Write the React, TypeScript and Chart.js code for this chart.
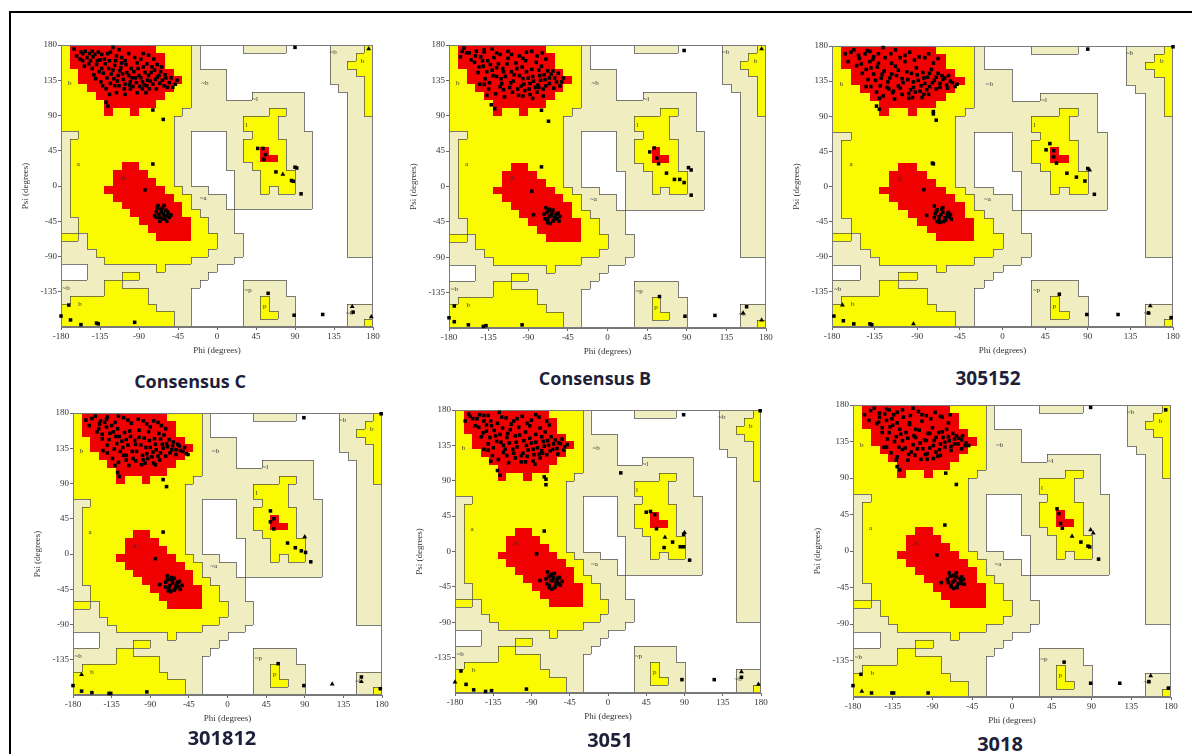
import React, { useEffect, useRef } from 'react';
import { Chart, registerables } from 'chart.js';

Chart.register(...registerables);

type Pt = [number, number];

// ---------- axes ----------
const X_TICKS = [-180, -135, -90, -45, 0, 45, 90, 135, 180];
const Y_TICKS = [-135, -90, -45, 0, 45, 90, 135, 180];
const PHI_MIN = -180;
const PSI_MAX = 180;
const CELL = 10;

// ---------- Ramachandran region map (10° cells, row 0 = psi 170..180, col 0 = phi -180..-170) ----------
// R = core, Y = allowed, G = generously allowed, . = disallowed
const REGION_ROWS = [
  'YRRRRRRRRRRYYYYG.....GGGGG.....GGGGY',
  'YRRRRRRRRRRRYYYG...............GGGYY',
  'YRRRRRRRRRRRYYYG...............GGYYY',
  'YYRRRRRRRRRRRYYGGGG............GGGYY',
  'YYRRRRRRRRRRRRYGGGG............GGGGY',
  'YYYRRRRRRRRRRYYGGGG.............GGGY',
  'YYYYRRRRRRRRYYYGGGG...GGGGGG.....GGY',
  'YYYYYRRRRRRYYYYGGGGGGGGGGGGG.....GGY',
  'YYYYYRYYRYYYYYGGGGGGGGGGYYGG.....GGY',
  'YYYYYYYYYYYYYGGGGGGGGYYYYGGG.....GGG',
  'YYYYYYYYYYYYYGGGGGGGGYYYYGGG.....GGG',
  'GGYYYYYYYYYYYGG....GGGYYYGGGG....GGG',
  'GYYYYYYYYYYYYGG....GGYYYYYGGG....GGG',
  'GYYYYYYYYYYYYGG....GGYYRYYGGG....GGG',
  'GYYYYYYYYYYYYGG....GGYYRRYGGG....GGG',
  'GYYYYYYRRYYYYGG....GGGYYYYGGG....GGG',
  'GYYYYYRRRRYYYGG.....GGGYYYYGG....GGG',
  'GYYYYYRRRRRYYGG.....GGGYYYYGG....GGG',
  'GYYYYRRRRRRRYYGGG...GGGYGYYGG....GGG',
  'GYYYYYRRRRRRRYYGGGG.GGGGGGGGG....GGG',
  'GYYYYYYRRRRRRRYGGGG.GGGGGGGGG....GGG',
  'GYYYYYYYRRRRRRYYGGGG.............GGG',
  'GGYYYYYYYRRRRRRYYGGG.............GGG',
  'GGYYYYYYYYRRRRRYYGGG.............GGG',
  'YYGYYYYYYYYRRRRYYYGGG............GGG',
  'GGGYYYYYYYYYYYYYYYGGG............GGG',
  'GGGGYYYYYYYYYYYYYGGGG............GGG',
  'GGGGGYYYYYYYYYYGGGGG................',
  '...GGGGGGGGYGGGGGG..................',
  '...GGGGYYGGGGGGGG...................',
  'GGGGGYYGGGGGGGGG.....GGGGG..........',
  'GGGGGYYYYYGGGGG......GGGGG..........',
  'GYYYYYYYYYGGGGG......GGYGGG.........',
  'YYYYYYYYYYYGGGG......GGYGGG......GGG',
  'YYYYYYYYYYYYYGG......GGYYGG......GGG',
  'YYYYYYYYYYYYYGG......GGGGGG......GGY',
];

const REGION_COLORS: Record<string, string> = {
  R: '#f00000',
  Y: '#fafa00',
  G: '#f0edc0',
};

const REGION_LABELS: [string, number, number][] = [
  ['b', -170, 131],
  ['a', -160, 28],
  ['A', -108, 10],
  ['~b', -14, 131],
  ['~l', 44, 111],
  ['l', 34, 78],
  ['~a', -16, -16],
  ['~b', -174, -131],
  ['b', -158, -151],
  ['~p', 36, -133],
  ['p', 55, -153],
  ['~b', 153, -162],
  ['~b', 134, 171],
  ['b', 168, 160],
];

// ---------- panel titles ----------
const TITLES = ['Consensus C', 'Consensus B', '305152', '301812', '3051', '3018'];

// ---------- data: Consensus C ----------
const CONS_C_SQUARES: Pt[] = [
  [-157, 171], [-155, 169], [-147, 169], [-143, 165], [-137, 171], [-126, 169], [-120, 177], [-116, 166], [-110, 164], [-102, 169], [-95, 164], [-85, 169], [-79, 167], [-73, 162],
  [-155, 160], [-153, 153], [-146, 160], [-142, 142], [-139, 155], [-135, 161], [-133, 150], [-129, 156], [-125, 150], [-122, 143], [-118, 154], [-114, 141], [-112, 147], [-110, 157], [-108, 136], [-106, 130], [-102, 141], [-100, 133], [-96, 146], [-94, 138], [-90, 141], [-86, 133], [-83, 145], [-81, 128], [-79, 141], [-77, 134], [-75, 152], [-71, 136], [-67, 141], [-63, 135], [-59, 138], [-55, 132], [-48, 130], [-46, 135],
  [-134, 133], [-132, 128], [-128, 124], [-124, 117], [-118, 128], [-116, 119], [-106, 117], [-100, 124], [-92, 119], [-86, 124], [-82, 119],
  [-128, 107], [-126, 102], [-74, 97], [-62, 85],
  [-74, 28], [-83, -5], [-68, -25], [-65, -30], [-70, -33], [-62, -35], [-58, -38], [-66, -40], [-60, -42], [-55, -40], [-72, -38], [-63, -28], [-57, -33],
  [47, 48], [53, 48], [54, 34], [56, 40], [90, 24], [92, 23], [68, 18], [86, 7], [88, 6], [97, -10],
  [90, 177], [59, -137], [89, -165], [122, -164], [157, -161],
  [-180, -166], [-171, -152], [-169, -171], [-157, -177], [-139, -175], [-137, -176], [-95, -174],
];
const CONS_C_DENSE: Pt[] = [
  [-165, 175], [-162, 166], [-158, 162], [-152, 172], [-150, 164], [-148, 156], [-144, 150], [-141, 168], [-138, 160], [-136, 146], [-131, 144], [-130, 162], [-127, 138], [-124, 160], [-123, 131], [-120, 148], [-119, 137], [-117, 160], [-115, 134], [-113, 128], [-111, 151], [-109, 143], [-107, 124], [-105, 155], [-104, 145], [-101, 129], [-99, 150], [-98, 138], [-97, 127], [-93, 132], [-91, 150], [-89, 127], [-88, 138], [-85, 152], [-84, 129], [-80, 135], [-78, 124], [-76, 145], [-74, 130], [-72, 148], [-70, 124], [-69, 139], [-66, 131], [-65, 146], [-61, 128], [-60, 142], [-57, 126], [-53, 138], [-51, 126], [-144, 172], [-133, 168], [-123, 171], [-113, 174], [-106, 160], [-92, 157], [-88, 162], [-81, 156], [-69, 155], [-64, 152], [-140, 137],
  [-69, -28], [-67, -36], [-64, -33], [-61, -38], [-59, -31], [-56, -36], [-63, -42], [-70, -40], [-66, -45], [-58, -45], [-53, -37], [-61, -25],
];
const CONS_C_TRIANGLES: Pt[] = [[76, 15], [175, 175], [156, -154], [178, -167]];

// ---------- data: Consensus B ----------
const CONS_B_SQUARES: Pt[] = [
  [-165, 172], [-160, 170], [-150, 166], [-140, 171], [-131, 175], [-122, 168], [-113, 172], [-100, 166], [-92, 171], [-80, 166], [-74, 170],
  [-151, 158], [-146, 152], [-142, 160], [-137, 146], [-133, 155], [-130, 141], [-126, 151], [-121, 137], [-118, 146], [-114, 156], [-110, 132], [-106, 142], [-103, 150], [-98, 128], [-96, 137], [-92, 146], [-88, 131], [-85, 140], [-82, 126], [-78, 148], [-76, 135], [-72, 142], [-70, 128], [-66, 138], [-62, 147], [-58, 133], [-54, 128],
  [-140, 130], [-135, 124], [-127, 118], [-122, 127], [-117, 114], [-108, 120], [-101, 116], [-94, 122], [-88, 117], [-80, 120], [-73, 115],
  [-132, 104], [-128, 99], [-75, 97], [-67, 83],
  [-75, 25], [-86, -6], [-84, -36], [-70, -27], [-67, -31], [-72, -35], [-64, -37], [-60, -40], [-68, -42], [-62, -44], [-57, -41], [-66, -29], [-58, -35],
  [48, 44], [53, 49], [56, 36], [58, 29], [67, 17], [76, 9], [82, 9], [87, 5], [92, 24], [95, 21], [95, -11],
  [87, 173], [59, -140], [88, -165], [122, -164], [158, -153],
  [-180, -167], [-174, -152], [-174, -172], [-158, -176], [-141, -178], [-138, -177], [-97, -176],
];
const CONS_B_DENSE: Pt[] = [
  [-167, 165], [-163, 176], [-157, 170], [-155, 161], [-149, 172], [-147, 145], [-144, 165], [-141, 153], [-139, 137], [-136, 160], [-134, 132], [-131, 148], [-129, 164], [-126, 140], [-124, 156], [-120, 131], [-119, 150], [-116, 140], [-113, 163], [-111, 126], [-109, 146], [-107, 134], [-104, 157], [-102, 124], [-100, 141], [-97, 152], [-95, 130], [-93, 160], [-90, 138], [-89, 124], [-86, 149], [-84, 134], [-81, 158], [-79, 129], [-77, 141], [-75, 153], [-73, 124], [-71, 136], [-68, 147], [-66, 131], [-64, 143], [-61, 125], [-60, 138], [-56, 144], [-52, 133], [-50, 138], [-145, 130], [-137, 116], [-118, 123], [-96, 115], [-85, 112], [-78, 126], [-140, 174], [-126, 170], [-109, 168], [-96, 163], [-86, 172], [-70, 162],
  [-69, -33], [-66, -38], [-63, -34], [-61, -43], [-59, -37], [-55, -44], [-65, -47], [-71, -41], [-56, -34], [-62, -30], [-68, -46], [-54, -38],
];
const CONS_B_TRIANGLES: Pt[] = [[175, 175], [154, -161], [175, -170]];

// ---------- data: 305152 ----------
const S305152_SQUARES: Pt[] = [
  [-160, 172], [-152, 168], [-143, 174], [-136, 166], [-126, 178], [-118, 170], [-108, 165], [-98, 172], [-88, 166], [-78, 170], [-68, 164],
  [-149, 157], [-144, 150], [-140, 160], [-136, 144], [-132, 153], [-128, 139], [-125, 148], [-121, 134], [-117, 144], [-113, 154], [-110, 129], [-106, 138], [-101, 147], [-97, 124], [-94, 134], [-90, 143], [-86, 129], [-83, 139], [-80, 124], [-77, 145], [-74, 133], [-70, 140], [-66, 127], [-63, 137], [-59, 130], [-55, 135], [-50, 128],
  [-139, 128], [-133, 121], [-126, 116], [-120, 125], [-114, 112], [-106, 118], [-99, 113], [-92, 121], [-85, 114], [-78, 118],
  [-133, 103], [-130, 99], [-73, 96], [-73, 93], [-70, 85],
  [-74, 30], [-73, 29], [-83, -4], [-80, -37], [-72, -25], [-69, -30], [-71, -35], [-65, -36], [-61, -40], [-67, -43], [-60, -43], [-56, -39], [-64, -29], [-58, -35],
  [50, 55], [46, 47], [54, 46], [54, 38], [57, 30], [90, 23], [68, 17], [78, 12], [87, 7], [97, -10],
  [90, 176], [180, 179], [60, -138], [89, -164], [122, -164], [154, -162], [178, -168],
  [-178, -166], [-168, -172], [-157, -176], [-140, -176], [-138, -177],
];
const S305152_DENSE: Pt[] = [
  [-166, 170], [-163, 160], [-157, 175], [-154, 155], [-151, 164], [-148, 145], [-145, 170], [-142, 137], [-139, 152], [-137, 163], [-134, 136], [-131, 158], [-129, 129], [-127, 144], [-124, 165], [-122, 127], [-119, 139], [-117, 158], [-115, 122], [-112, 142], [-110, 149], [-108, 126], [-105, 133], [-103, 160], [-100, 137], [-99, 119], [-96, 145], [-94, 127], [-91, 152], [-89, 136], [-87, 122], [-84, 146], [-82, 132], [-79, 140], [-77, 128], [-75, 150], [-72, 136], [-70, 125], [-68, 145], [-66, 132], [-64, 142], [-61, 139], [-58, 126], [-57, 142], [-53, 133], [-48, 131], [-144, 128], [-130, 113], [-116, 120], [-95, 114], [-83, 118], [-140, 173], [-131, 170], [-113, 175], [-103, 168], [-93, 162], [-82, 165], [-73, 158],
  [-70, -32], [-67, -39], [-63, -33], [-62, -45], [-58, -38], [-54, -42], [-66, -46], [-72, -40], [-57, -33], [-63, -27], [-69, -45], [-55, -36],
];
const S305152_TRIANGLES: Pt[] = [[92, 21], [156, -153], [-169, -152], [-94, -176]];

// ---------- data: 301812 ----------
const S301812_SQUARES: Pt[] = [
  [-158, 173], [-148, 170], [-140, 175], [-131, 168], [-121, 174], [-112, 167], [-104, 172], [-94, 166], [-86, 170], [-77, 164],
  [-150, 160], [-146, 153], [-141, 162], [-138, 146], [-133, 156], [-129, 141], [-126, 150], [-122, 136], [-118, 146], [-114, 157], [-111, 131], [-107, 140], [-103, 149], [-99, 126], [-95, 136], [-91, 145], [-87, 130], [-84, 140], [-81, 125], [-78, 147], [-75, 135], [-71, 141], [-67, 129], [-64, 138], [-60, 133], [-56, 138], [-52, 131], [-46, 127],
  [-140, 129], [-134, 122], [-127, 117], [-121, 126], [-115, 113], [-107, 119], [-100, 114], [-93, 122], [-86, 116], [-79, 120],
  [-128, 104], [-126, 99], [-75, 95], [-71, 86],
  [-75, 28], [-84, -6], [-79, -39], [-70, -28], [-67, -32], [-72, -36], [-64, -37], [-60, -41], [-68, -44], [-62, -46], [-57, -42], [-65, -30], [-58, -36],
  [50, 55], [50, 41], [54, 45], [54, 32], [70, 14], [79, 8], [86, 4], [91, 2], [97, -10],
  [89, 174], [179, 179], [59, -140], [89, -168], [156, -157], [178, -172],
  [-180, -168], [-170, -175], [-158, -177], [-138, -178], [-136, -178], [-94, -176],
];
const S301812_DENSE: Pt[] = [
  [-165, 171], [-161, 164], [-154, 176], [-152, 156], [-149, 166], [-146, 147], [-143, 168], [-140, 139], [-137, 154], [-135, 164], [-132, 134], [-130, 150], [-128, 160], [-125, 131], [-123, 144], [-120, 155], [-118, 126], [-116, 139], [-113, 150], [-110, 122], [-108, 145], [-106, 131], [-103, 158], [-101, 139], [-98, 120], [-97, 148], [-94, 128], [-92, 156], [-90, 136], [-88, 124], [-85, 147], [-83, 133], [-80, 154], [-78, 129], [-76, 140], [-74, 152], [-72, 125], [-70, 137], [-68, 146], [-65, 133], [-63, 143], [-60, 127], [-58, 140], [-55, 132], [-50, 136], [-48, 128], [-145, 132], [-131, 113], [-118, 120], [-96, 116], [-84, 114], [-141, 172], [-127, 176], [-116, 171], [-98, 170], [-90, 162], [-81, 168], [-72, 160],
  [-70, -33], [-67, -40], [-64, -34], [-61, -44], [-59, -38], [-55, -45], [-66, -48], [-72, -42], [-56, -35], [-62, -31], [-69, -47], [-53, -40],
];
const S301812_TRIANGLES: Pt[] = [[90, 22], [122, -166], [156, -163], [-170, -154]];

// ---------- data: 3051 ----------
const S3051_SQUARES: Pt[] = [
  [-162, 172], [-154, 169], [-146, 173], [-138, 166], [-128, 177], [-120, 170], [-111, 166], [-101, 172], [-90, 167], [-81, 171], [-72, 166],
  [-152, 158], [-147, 151], [-143, 161], [-139, 145], [-134, 154], [-131, 140], [-127, 149], [-123, 135], [-119, 145], [-115, 155], [-112, 130], [-108, 139], [-104, 148], [-100, 125], [-96, 135], [-92, 144], [-88, 130], [-85, 139], [-81, 124], [-78, 146], [-75, 134], [-71, 141], [-68, 128], [-64, 137], [-60, 131], [-56, 137], [-52, 129],
  [-141, 129], [-136, 122], [-129, 117], [-123, 126], [-117, 113], [-109, 119], [-102, 114], [-95, 121], [-88, 115], [-80, 119],
  [-130, 103], [-127, 97], [-75, 95], [-73, 92], [-73, 85],
  [-75, 26], [-84, -3], [-80, -37], [-71, -26], [-68, -31], [-73, -35], [-65, -37], [-61, -40], [-69, -43], [-63, -46], [-58, -41], [-66, -29], [-59, -34],
  [15, 100],
  [45, 50], [50, 51], [55, 47], [57, 29], [76, 12], [89, 22], [85, 6], [89, 6], [66, 5], [96, -11],
  [89, 174], [179, 179], [87, -163], [125, -163], [157, -160],
  [-173, -152], [-167, -169], [-158, -176], [-144, -178], [-137, -177], [-96, -175],
];
const S3051_DENSE: Pt[] = [
  [-168, 166], [-164, 175], [-159, 169], [-156, 160], [-151, 174], [-149, 146], [-146, 166], [-143, 153], [-141, 137], [-137, 160], [-135, 132], [-132, 147], [-130, 163], [-126, 139], [-124, 157], [-121, 130], [-118, 150], [-116, 138], [-114, 162], [-111, 125], [-109, 147], [-107, 133], [-105, 158], [-102, 122], [-99, 141], [-97, 152], [-94, 129], [-92, 160], [-90, 138], [-87, 123], [-85, 149], [-83, 132], [-80, 157], [-78, 128], [-76, 140], [-74, 152], [-72, 123], [-70, 135], [-67, 146], [-65, 130], [-62, 142], [-59, 124], [-58, 138], [-54, 143], [-51, 133], [-48, 136], [-146, 130], [-138, 115], [-119, 122], [-97, 114], [-86, 111], [-77, 125], [-141, 173], [-125, 171], [-107, 169], [-95, 163], [-85, 174], [-69, 161],
  [-70, -32], [-67, -37], [-64, -33], [-62, -44], [-60, -37], [-56, -43], [-66, -48], [-72, -41], [-57, -33], [-63, -28], [-69, -46], [-54, -38],
];
const S3051_TRIANGLES: Pt[] = [[67, 18], [90, 24], [157, -153], [177, -169], [-180, -166]];

// ---------- data: 3018 ----------
const S3018_SQUARES: Pt[] = [
  [-160, 173], [-150, 170], [-142, 175], [-134, 168], [-124, 174], [-115, 167], [-106, 172], [-97, 167], [-87, 171], [-79, 165], [-70, 168],
  [-151, 159], [-147, 152], [-142, 161], [-139, 146], [-135, 155], [-131, 141], [-127, 150], [-124, 136], [-120, 146], [-116, 156], [-112, 131], [-109, 140], [-105, 149], [-101, 126], [-97, 136], [-93, 145], [-89, 130], [-86, 140], [-82, 125], [-79, 147], [-76, 134], [-72, 141], [-69, 129], [-65, 138], [-61, 132], [-57, 137], [-53, 130],
  [-142, 128], [-137, 121], [-130, 116], [-124, 125], [-118, 112], [-110, 118], [-103, 113], [-96, 120], [-89, 114], [-81, 118],
  [-130, 104], [-127, 100], [-75, 96], [-63, 82],
  [-76, 32], [-85, -5], [-80, -39], [-71, -27], [-68, -31], [-73, -35], [-65, -36], [-61, -40], [-69, -42], [-62, -45], [-57, -40], [-66, -30], [-59, -34],
  [51, 52], [53, 46], [55, 34], [57, 28], [78, 11], [86, 6], [88, 5], [98, -10],
  [89, 177], [174, 174], [59, -137], [89, -163], [122, -163], [155, -161], [177, -169],
  [-180, -166], [-171, -152], [-159, -175], [-136, -175], [-134, -175], [-95, -175],
];
const S3018_DENSE: Pt[] = [
  [-167, 168], [-162, 161], [-156, 176], [-153, 157], [-150, 165], [-147, 146], [-144, 169], [-141, 138], [-138, 153], [-136, 163], [-133, 135], [-130, 158], [-128, 128], [-126, 144], [-123, 165], [-121, 127], [-118, 139], [-116, 158], [-114, 122], [-111, 142], [-109, 150], [-107, 126], [-104, 133], [-102, 160], [-99, 137], [-98, 119], [-95, 145], [-93, 127], [-90, 152], [-88, 136], [-86, 122], [-83, 146], [-81, 132], [-78, 140], [-76, 128], [-74, 150], [-71, 136], [-69, 124], [-67, 145], [-65, 132], [-63, 142], [-60, 139], [-57, 126], [-56, 142], [-52, 133], [-49, 130], [-145, 128], [-131, 112], [-117, 119], [-96, 113], [-84, 117], [-139, 174], [-130, 171], [-112, 176], [-102, 168], [-92, 163], [-81, 166], [-72, 158],
  [-70, -31], [-67, -38], [-63, -32], [-62, -44], [-58, -37], [-54, -41], [-66, -46], [-72, -39], [-57, -32], [-63, -27], [-69, -44], [-55, -35],
];
const S3018_TRIANGLES: Pt[] = [[68, 18], [89, 26], [92, 22], [157, -154], [-170, -173]];

const PANEL_SQUARES: Pt[][] = [
  [...CONS_C_SQUARES, ...CONS_C_DENSE],
  [...CONS_B_SQUARES, ...CONS_B_DENSE],
  [...S305152_SQUARES, ...S305152_DENSE],
  [...S301812_SQUARES, ...S301812_DENSE],
  [...S3051_SQUARES, ...S3051_DENSE],
  [...S3018_SQUARES, ...S3018_DENSE],
];
const PANEL_TRIANGLES: Pt[][] = [CONS_C_TRIANGLES, CONS_B_TRIANGLES, S305152_TRIANGLES, S301812_TRIANGLES, S3051_TRIANGLES, S3018_TRIANGLES];

// ---------- layout (plot-area boxes in page pixels) ----------
const LAYOUT = [
  { L: 61, T: 45, W: 312, H: 282, tx: 190, ty: 381, fs: 18 },
  { L: 449, T: 45, W: 317, H: 283, tx: 595, ty: 378, fs: 18 },
  { L: 832, T: 46, W: 341, H: 281, tx: 988, ty: 378, fs: 19 },
  { L: 73, T: 413, W: 309, H: 282, tx: 222, ty: 738, fs: 20 },
  { L: 455, T: 410, W: 306, H: 283, tx: 610, ty: 740, fs: 20 },
  { L: 853, T: 405, W: 318, H: 292, tx: 1000, ty: 744, fs: 20 },
];
const AXIS_W = 46;
const AXIS_H = 32;
const PAD_T = 8;
const PAD_R = 10;

const needLine = (a: string, b: string) =>
  a !== b && !((a === 'R' && b === 'Y') || (a === 'Y' && b === 'R'));

const regionPlugin = {
  id: 'ramaRegions',
  beforeDatasetsDraw(chart: any) {
    const { ctx, chartArea } = chart;
    const xs = chart.scales.x;
    const ys = chart.scales.y;
    const px = (v: number) => Math.round(xs.getPixelForValue(v));
    const py = (v: number) => Math.round(ys.getPixelForValue(v));
    const n = REGION_ROWS.length;
    ctx.save();
    ctx.fillStyle = '#ffffff';
    ctx.fillRect(chartArea.left, chartArea.top, chartArea.right - chartArea.left, chartArea.bottom - chartArea.top);
    for (let r = 0; r < n; r++) {
      const row = REGION_ROWS[r];
      const psiTop = PSI_MAX - r * CELL;
      for (let c = 0; c < row.length; c++) {
        const col = REGION_COLORS[row[c]];
        if (!col) continue;
        const phiL = PHI_MIN + c * CELL;
        const x0 = px(phiL), x1 = px(phiL + CELL);
        const y0 = py(psiTop), y1 = py(psiTop - CELL);
        ctx.fillStyle = col;
        ctx.fillRect(x0, y0, x1 - x0, y1 - y0);
      }
    }
    ctx.strokeStyle = 'rgba(70,70,70,0.7)';
    ctx.lineWidth = 1;
    ctx.beginPath();
    for (let r = 0; r < n; r++) {
      const row = REGION_ROWS[r];
      const psiTop = PSI_MAX - r * CELL;
      for (let c = 0; c < row.length; c++) {
        const phiL = PHI_MIN + c * CELL;
        if (c < row.length - 1 && needLine(row[c], row[c + 1])) {
          const x = px(phiL + CELL) + 0.5;
          ctx.moveTo(x, py(psiTop));
          ctx.lineTo(x, py(psiTop - CELL));
        }
        if (r < n - 1 && needLine(row[c], REGION_ROWS[r + 1][c])) {
          const y = py(psiTop - CELL) + 0.5;
          ctx.moveTo(px(phiL), y);
          ctx.lineTo(px(phiL + CELL), y);
        }
      }
    }
    ctx.stroke();
    ctx.fillStyle = '#333';
    ctx.font = '7px "Liberation Serif", serif';
    ctx.textAlign = 'center';
    ctx.textBaseline = 'middle';
    for (const [t, phi, psi] of REGION_LABELS) {
      ctx.fillText(t, xs.getPixelForValue(phi), ys.getPixelForValue(psi));
    }
    ctx.strokeStyle = '#7a7a7a';
    ctx.strokeRect(chartArea.left + 0.5, chartArea.top + 0.5, chartArea.right - chartArea.left - 1, chartArea.bottom - chartArea.top - 1);
    ctx.restore();
  },
};

const tickFont = { family: '"Liberation Serif", "DejaVu Serif", serif', size: 9 };

function Panel({ idx }: { idx: number }) {
  const ref = useRef<HTMLCanvasElement | null>(null);
  const lay = LAYOUT[idx];
  const cw = lay.W + AXIS_W + PAD_R;
  const ch = lay.H + PAD_T + AXIS_H;

  useEffect(() => {
    if (!ref.current) return;
    const chart = new Chart(ref.current, {
      type: 'scatter',
      data: {
        datasets: [
          {
            data: PANEL_SQUARES[idx].map(([x, y]) => ({ x, y })),
            pointStyle: 'rect',
            pointRadius: 2.5,
            backgroundColor: '#000',
            borderColor: '#000',
            borderWidth: 0,
            clip: 6,
          } as any,
          {
            data: PANEL_TRIANGLES[idx].map(([x, y]) => ({ x, y })),
            pointStyle: 'triangle',
            pointRadius: 2.8,
            backgroundColor: '#000',
            borderColor: '#000',
            borderWidth: 0,
            clip: 6,
          } as any,
        ],
      },
      options: {
        animation: false,
        responsive: false,
        events: [],
        layout: { padding: { left: 0, top: PAD_T, right: PAD_R, bottom: 0 } },
        plugins: { legend: { display: false }, tooltip: { enabled: false } },
        scales: {
          x: {
            type: 'linear',
            min: -180,
            max: 180,
            afterBuildTicks: (s: any) => {
              s.ticks = X_TICKS.map((v) => ({ value: v }));
            },
            afterFit: (s: any) => {
              s.height = AXIS_H;
            },
            ticks: { font: tickFont, color: '#333', padding: 1, maxRotation: 0, autoSkip: false },
            grid: { drawOnChartArea: false, drawTicks: true, tickLength: 3, color: '#666' },
            border: { display: true, color: '#777' },
            title: { display: true, text: 'Phi (degrees)', font: tickFont, color: '#333', padding: { top: 0, bottom: 3 } },
          },
          y: {
            type: 'linear',
            min: -180,
            max: 180,
            afterBuildTicks: (s: any) => {
              s.ticks = Y_TICKS.map((v) => ({ value: v }));
            },
            afterFit: (s: any) => {
              s.width = AXIS_W;
            },
            ticks: { font: tickFont, color: '#333', padding: 1, autoSkip: false },
            grid: { drawOnChartArea: false, drawTicks: true, tickLength: 3, color: '#666' },
            border: { display: true, color: '#777' },
            title: { display: true, text: 'Psi (degrees)', font: tickFont, color: '#333', padding: { top: 5, bottom: 0 } },
          },
        },
      } as any,
      plugins: [regionPlugin],
    });
    return () => chart.destroy();
  }, [idx]);

  return (
    <>
      <canvas
        ref={ref}
        width={cw}
        height={ch}
        style={{ position: 'absolute', left: lay.L - AXIS_W, top: lay.T - PAD_T, width: cw, height: ch, display: 'block' }}
      />
      <div
        style={{
          position: 'absolute',
          left: lay.tx,
          top: lay.ty,
          transform: 'translate(-50%, -50%)',
          fontFamily: '"Open Sans", "Noto Sans", sans-serif',
          fontWeight: 700,
          fontSize: lay.fs,
          lineHeight: 1,
          color: '#1d1f3b',
          whiteSpace: 'nowrap',
        }}
      >
        {TITLES[idx]}
      </div>
    </>
  );
}

export default function App() {
  return (
    <div
      style={{
        position: 'fixed',
        left: 0,
        top: 0,
        width: 1192,
        height: 754,
        overflow: 'hidden',
        background: '#ffffff',
      }}
    >
      <div
        style={{
          position: 'absolute',
          left: 9,
          top: 11,
          width: 1300,
          height: 900,
          border: '2px solid #000',
          boxSizing: 'border-box',
        }}
      />
      {TITLES.map((_, i) => (
        <Panel key={i} idx={i} />
      ))}
    </div>
  );
}
